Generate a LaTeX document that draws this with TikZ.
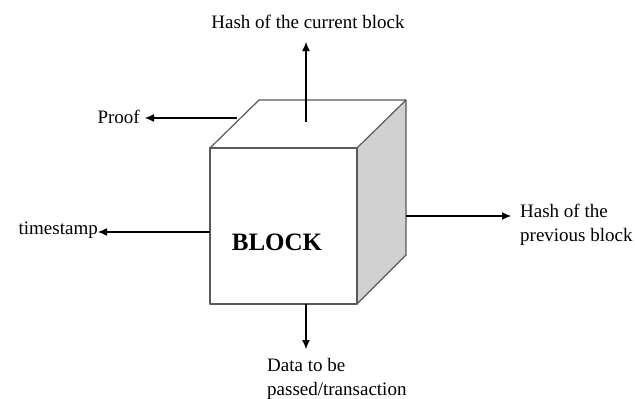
\documentclass[tikz,border=0pt]{standalone}
\usepackage{fontspec}
\setmainfont{Liberation Serif}
\usetikzlibrary{arrows.meta}
\begin{document}
\begin{tikzpicture}[x=1pt,y=-1pt,
  edge/.style={draw=black!65,line width=1.2pt,line join=round},
  conn/.style={draw=black,line width=1.1pt,-{Latex[length=9pt,width=8pt]}},
  lbl/.style={font=\fontsize{19}{24}\selectfont,inner sep=1pt,align=left}]
\useasboundingbox (0,0) rectangle (635,399);
% cube corners
\coordinate (A) at (210,148);
\coordinate (B) at (357,148);
\coordinate (C) at (357,304);
\coordinate (D) at (210,304);
\coordinate (E) at (259,100);
\coordinate (F) at (406,100);
\coordinate (G) at (406,255);
\fill[white] (A) -- (E) -- (F) -- (B) -- cycle;
\fill[black!18] (B) -- (F) -- (G) -- (C) -- cycle;
\fill[white] (A) rectangle (C);
\draw[edge] (A) -- (E) -- (F) -- (B);
\draw[edge] (F) -- (G) -- (C);
\draw[edge] (A) -- (B) -- (C) -- (D) -- cycle;
\node[font=\fontsize{25}{30}\selectfont\bfseries] (block) at (277,242) {BLOCK};
% attachment points and arrow tips
\coordinate (ptop) at (306,122);   \coordinate (ttop) at (306,42);
\coordinate (pproof) at (237,118); \coordinate (tproof) at (145,118);
\coordinate (ptime) at (210,232);  \coordinate (ttime) at (98,232);
\coordinate (pright) at (406,216); \coordinate (tright) at (511,216);
\coordinate (pdown) at (306,304);  \coordinate (tdown) at (306,349);
% labels
\node[lbl] (hcur) at (308,22) {Hash of the current block};
\node[lbl,anchor=east] (proof) at (141,117) {Proof};
\node[lbl,anchor=east] (time) at (99,230) {timestamp};
\node[lbl,anchor=west] (hprev) at (519,225) {Hash of the\\previous block};
\node[lbl,anchor=west] (data) at (266,379) {Data to be\\passed/transaction};
% connectors
\draw[conn] (ptop) -- (ttop);
\draw[conn] (pproof) -- (tproof);
\draw[conn] (ptime) -- (ttime);
\draw[conn] (pright) -- (tright);
\draw[conn] (pdown) -- (tdown);
\end{tikzpicture}
\end{document}
